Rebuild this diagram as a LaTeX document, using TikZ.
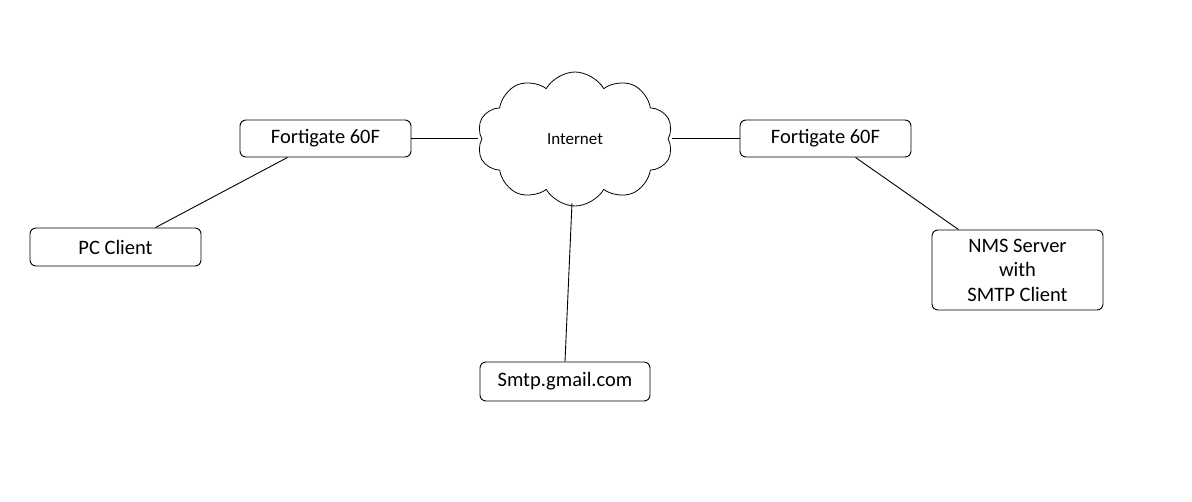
\documentclass[tikz,border=0pt]{standalone}
\usepackage{fontspec}
\setmainfont{Carlito}
\usetikzlibrary{shapes.symbols}
\begin{document}
\begin{tikzpicture}[x=1pt,y=-1pt,
  box/.style={draw, line width=0.9pt, rounded corners=6pt, minimum width=171pt, font=\fontsize{20.5}{24.5}\selectfont, align=center, inner sep=0pt},
  link/.style={line width=0.9pt}]
\useasboundingbox (0,0) rectangle (1192,501);
\node[box, minimum height=37pt] (fl) at (325.5,138.5) {Fortigate 60F};
\node[box, minimum height=37pt] (fr) at (825.5,138.5) {Fortigate 60F};
\node[box, minimum height=38pt] (pc) at (115.5,247) {PC Client};
\node[box, minimum height=80pt] (nms) at (1017.5,270) {NMS Server\\with\\SMTP Client};
\node[box, minimum height=39pt, minimum width=170pt] (smtp) at (565,381.5) {Smtp.gmail.com};
\node[cloud, draw, line width=0.8pt, cloud puffs=10, cloud puff arc=120, aspect=1.5, minimum width=196pt, minimum height=134pt, inner sep=0pt, font=\fontsize{17}{20}\selectfont] (net) at (575,139) {Internet};
\coordinate (cl) at (478,138.5);
\coordinate (cr) at (672,138.5);
\coordinate (cb) at (572,203);
\draw[link] (fl.east) -- (cl);
\draw[link] (cr) -- (fr.west);
\draw[link] (cb) -- (smtp.north);
\draw[link] ([xshift=-38pt]fl.south) -- ([xshift=40pt]pc.north);
\draw[link] ([xshift=30pt]fr.south) -- ([xshift=-59pt]nms.north);
\end{tikzpicture}
\end{document}
